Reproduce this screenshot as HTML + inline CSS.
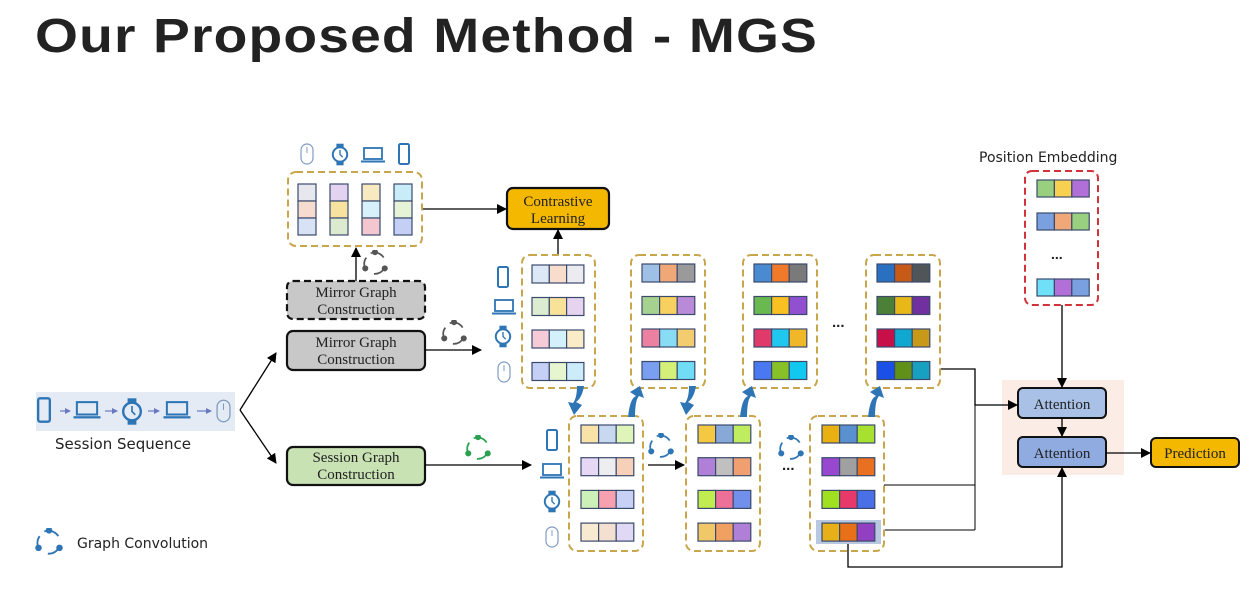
<!DOCTYPE html>
<html><head><meta charset="utf-8"><style>
body{margin:0;background:#fff;width:1260px;height:593px;overflow:hidden}
svg{display:block}
.t{font-family:"Liberation Serif",serif;font-size:15px;fill:#222;text-anchor:middle}
.s{font-family:"DejaVu Sans","Liberation Sans",sans-serif;fill:#222}
</style></head><body>
<svg id="g" width="1260" height="593" viewBox="0 0 1260 593" xmlns="http://www.w3.org/2000/svg">
<defs>
<marker id="a" markerWidth="10" markerHeight="10" refX="9" refY="5" orient="auto" markerUnits="userSpaceOnUse"><path d="M0,0 L10,5 L0,10 z" fill="#000"/></marker>
<marker id="b" markerWidth="6" markerHeight="6" refX="5" refY="3" orient="auto" markerUnits="userSpaceOnUse"><path d="M0,0 L6,3 L0,6 z" fill="#6a78c0"/></marker>
<symbol id="gc" viewBox="-12 -12 24 24"><path d="M-4,-9 A10,10 0 0 1 8,-5 M9,4 A10,10 0 0 1 -1,10 M-9,5 A10,10 0 0 1 -8,-5" fill="none" stroke="currentColor" stroke-width="1.6"/><circle cx="0" cy="-10" r="2.8" fill="currentColor"/><circle cx="9" cy="5" r="2.8" fill="currentColor"/><circle cx="-9" cy="5" r="2.8" fill="currentColor"/></symbol>
<symbol id="ph" viewBox="0 0 12 22"><rect x="1" y="1" width="10" height="20" rx="1.5" fill="none" stroke="#2e75b6" stroke-width="2"/></symbol>
<symbol id="lp" viewBox="0 0 24 16"><rect x="3" y="1" width="18" height="11" fill="none" stroke="#2e75b6" stroke-width="1.8"/><rect x="0" y="13.5" width="24" height="2" fill="#2e75b6"/></symbol>
<symbol id="wt" viewBox="0 0 20 24"><rect x="6" y="0" width="8" height="5" fill="#2e75b6"/><rect x="6" y="19" width="8" height="5" fill="#2e75b6"/><circle cx="10" cy="12" r="8" fill="none" stroke="#2e75b6" stroke-width="2.2"/><path d="M10,7 V12 L13,15" stroke="#2e75b6" stroke-width="1.5" fill="none"/></symbol>
<symbol id="ms" viewBox="0 0 14 22"><rect x="1" y="1" width="12" height="20" rx="6" fill="none" stroke="#7f9cc0" stroke-width="1.2"/><line x1="7" y1="4" x2="7" y2="10" stroke="#7f9cc0"/></symbol>
</defs>
<text x="35" y="52" textLength="783" lengthAdjust="spacingAndGlyphs" font-family="Liberation Sans,sans-serif" font-weight="bold" font-size="48" fill="#222" letter-spacing="1">Our Proposed Method - MGS</text>

<!-- session sequence -->
<rect x="36" y="392" width="199" height="39" fill="#e4ebf5"/>
<use href="#ph" x="37" y="397" width="14" height="26"/>
<use href="#lp" x="72" y="401" width="30" height="18"/>
<use href="#wt" x="121" y="398" width="22" height="27"/>
<use href="#lp" x="162" y="401" width="30" height="18"/>
<use href="#ms" x="216" y="398" width="15" height="26"/>
<g stroke="#6a78c0" stroke-width="1.2" marker-end="url(#b)"><line x1="60" y1="411" x2="70" y2="411"/><line x1="105" y1="411" x2="117" y2="411"/><line x1="148" y1="411" x2="159" y2="411"/><line x1="197" y1="411" x2="211" y2="411"/></g>
<text class="s" x="55" y="449" font-size="15">Session Sequence</text>
<g stroke="#000" stroke-width="1.3" fill="none" marker-end="url(#a)"><line x1="240" y1="410" x2="276" y2="353"/><line x1="240" y1="410" x2="276" y2="463"/></g>

<!-- construction boxes -->
<rect x="287" y="281" width="138" height="38" rx="6" fill="#c8c8c8" stroke="#111" stroke-width="2.2" stroke-dasharray="7,4"/>
<text class="t" x="356" y="297">Mirror Graph</text><text class="t" x="356" y="314">Construction</text>
<rect x="287" y="331" width="138" height="39" rx="6" fill="#c8c8c8" stroke="#111" stroke-width="2.2"/>
<text class="t" x="356" y="347">Mirror Graph</text><text class="t" x="356" y="364">Construction</text>
<rect x="287" y="447" width="138" height="38" rx="6" fill="#c9e2b4" stroke="#111" stroke-width="2.2"/>
<text class="t" x="356" y="462">Session Graph</text><text class="t" x="356" y="479">Construction</text>

<!-- attention area (drawn before connectors) -->
<rect x="1002" y="380" width="122" height="95" fill="#fbece5"/>
<rect x="1018" y="388" width="88" height="30" rx="5" fill="#a9c1e6" stroke="#111" stroke-width="2"/>
<text class="t" x="1062" y="409">Attention</text>
<rect x="1018" y="437" width="88" height="30" rx="5" fill="#8fabe0" stroke="#111" stroke-width="2"/>
<text class="t" x="1062" y="458">Attention</text>
<rect x="1151" y="438" width="88" height="29" rx="5" fill="#f5b800" stroke="#111" stroke-width="2"/>
<text class="t" x="1195" y="458">Prediction</text>

<rect x="507" y="188" width="102" height="41" rx="6" fill="#f5b800" stroke="#111" stroke-width="2.2"/>
<text class="t" x="558" y="206">Contrastive</text><text class="t" x="558" y="223">Learning</text>

<g stroke="#000" stroke-width="1.3" fill="none" marker-end="url(#a)">
<line x1="356" y1="281" x2="356" y2="248"/>
<line x1="425" y1="350" x2="481" y2="350"/>
<line x1="425" y1="465" x2="531" y2="465"/>
<line x1="422" y1="209" x2="506" y2="209"/>
<line x1="558" y1="255" x2="558" y2="230"/>
<line x1="648" y1="465" x2="684" y2="465"/>
<polyline points="940,369 975,369 975,405 1017,405"/>
<polyline points="848,543 848,567 1062,567 1062,468"/>
<line x1="1062" y1="305" x2="1062" y2="387"/>
<line x1="1062" y1="418" x2="1062" y2="436"/>
<line x1="1106" y1="453" x2="1150" y2="453"/>
</g>
<g stroke="#000" stroke-width="1" fill="none"><line x1="884" y1="485" x2="975" y2="485"/><line x1="884" y1="530" x2="975" y2="530"/><line x1="975" y1="405" x2="975" y2="530"/></g>

<use href="#gc" x="362" y="250" width="26" height="26" color="#555"/>
<use href="#gc" x="441" y="320" width="26" height="26" color="#555"/>
<use href="#gc" x="465" y="435" width="26" height="26" color="#2aa050"/>
<use href="#gc" x="648" y="433" width="26" height="26" color="#2e75b6"/>
<use href="#gc" x="778" y="435" width="26" height="26" color="#2e75b6"/>
<use href="#gc" x="35" y="528" width="28" height="28" color="#2e75b6"/>
<text class="s" x="77" y="548" font-size="14">Graph Convolution</text>
<text x="782" y="470" font-family="Liberation Sans,sans-serif" font-weight="bold" font-size="15" fill="#222">...</text>
<text x="832" y="327" font-family="Liberation Sans,sans-serif" font-weight="bold" font-size="15" fill="#222">...</text>

<!-- top mirror box -->
<rect x="288" y="172" width="134" height="74" rx="8" fill="none" stroke="#c9a64c" stroke-width="2" stroke-dasharray="7,4"/>
<use href="#ms" x="300" y="143" width="14" height="22"/>
<use href="#wt" x="331" y="143" width="18" height="23"/>
<use href="#lp" x="361" y="147" width="24" height="16"/>
<use href="#ph" x="398" y="143" width="12" height="22"/>

<!-- icons left of mirror embeddings -->
<use href="#ph" x="497" y="266" width="12" height="22"/>
<use href="#lp" x="492" y="299" width="24" height="16"/>
<use href="#wt" x="494" y="325" width="18" height="23"/>
<use href="#ms" x="497" y="361" width="14" height="22"/>
<use href="#ph" x="546" y="429" width="12" height="22"/>
<use href="#lp" x="540" y="463" width="24" height="16"/>
<use href="#wt" x="543" y="490" width="18" height="23"/>
<use href="#ms" x="545" y="526" width="14" height="22"/>

<text class="s" x="979" y="162" font-size="14">Position Embedding</text>
<rect x="1025" y="171" width="73" height="134" rx="7" fill="none" stroke="#d0343a" stroke-width="2" stroke-dasharray="7,4"/>
<text x="1051" y="259" font-family="Liberation Sans,sans-serif" font-weight="bold" font-size="14" fill="#222">...</text>
<g id="cells"></g>
<g id="arr" fill="#2e75b6"></g>
</svg>
<script>
const C=document.getElementById('cells');
function r(x,y,w,h,f,sw,st){const e=document.createElementNS('http://www.w3.org/2000/svg','rect');e.setAttribute('x',x);e.setAttribute('y',y);e.setAttribute('width',w);e.setAttribute('height',h);e.setAttribute('fill',f);if(st){e.setAttribute('stroke',st);e.setAttribute('stroke-width',sw);}C.appendChild(e);return e;}
function row(x,y,cols,cw,h){cols.forEach((c,i)=>r(x+i*cw,y,cw,h,c,1.2,'#3b4a6b'));}
function box(x,y,w,h){const e=r(x,y,w,h,'none',2,'#c9a64c');e.setAttribute('rx',8);e.setAttribute('stroke-dasharray','7,4');}
const tc=[['#e6e8ee','#f5dccf','#d8e2f5'],['#e3d2f0','#f8e2a0','#dcebd0'],['#f8eac0','#d8f0fa','#f3c6d0'],['#c8ecf8','#e6f3d6','#c4cff5']];
tc.forEach((c,i)=>c.forEach((f,j)=>r(298+i*32,184+j*17,18,17,f,1.2,'#3b4a6b')));
box(522,255,73,133);
[['#dde8f6','#f8dccc','#ececf0'],['#dcecd0','#f8e29a','#e6d3f0'],['#f6cad6','#d4f0fa','#faecc6'],['#c6d0f6','#e6f6d0','#ccecfa']].forEach((c,i)=>row(532,265+i*32.5,c,17.3,18));
const tops=[[631,['#9ec0e4','#f0a878','#9a9a9a'],['#a6d290','#f8d060','#b88ad8'],['#ec80a0','#88dcf4','#f4cc70'],['#7a9ef0','#d4f078','#70dcf6']],
[743,['#4a8ad0','#f07a2a','#7a7a7a'],['#6ab850','#f8c020','#9050d0'],['#e03a6a','#20c8f0','#f0b828'],['#4a78f0','#88c028','#10c8f0']],
[866,['#2a70c0','#c85a18','#505558'],['#4a8038','#e8b818','#7030a0'],['#c81048','#10a8d0','#c89818'],['#1a50e8','#609018','#18a0c0']]];
tops.forEach(t=>{box(t[0],255,74,133);for(let i=0;i<4;i++)row(t[0]+11,264+i*32.5,t[i+1],17.6,18);});
r(816,520,65,24,'#b8c8e0');
const bots=[[569,['#f8e2a8','#c8d8f0','#def4b8'],['#e6d8f4','#eeeef0','#f6d0b8'],['#cdf0b8','#f6a0b0','#c8d0f6'],['#f8ead0','#f4e0d0','#e0d8f4']],
[686,['#f4c840','#88a8d8','#c0ec60'],['#b080d8','#c0c0c0','#f0a070'],['#c0ec50','#ec7098','#7090ec'],['#f0c868','#f0a060','#b080d8']],
[810,['#e8b010','#5890d0','#a8e030'],['#9848d0','#a0a0a0','#e87020'],['#a0e020','#e83a6a','#4a70e8'],['#e8b018','#e87018','#9040c0']]];
bots.forEach(t=>{box(t[0],416,74,135);for(let i=0;i<4;i++)row(t[0]+12,425+i*32.7,t[i+1],17.6,18);});
[['#98d080','#f8d050','#b070d8'],['#7aa0e0','#f0a878','#98d080'],['#70e0f8','#b070d8','#7aa0e0']].forEach((c,i)=>row(1037,[180,213,279][i],c,17.4,17));
const A=document.getElementById('arr');
function ca(x,up){const g=document.createElementNS('http://www.w3.org/2000/svg','path');
let d=up?`M${x-4},417 Q${x-2},398 ${x+4},396 L${x-2},392 L${x+8},386 L${x+12},398 L${x+7},396 Q${x+3},400 ${x+3},417 Z`
:`M${x+4},386 Q${x+2},398 ${x-4},402 L${x+2},405 L${x-6},415 L${x-12},402 L${x-7},403 Q${x-3},398 ${x-3},386 Z`;
g.setAttribute('d',d);A.appendChild(g);}
ca(580,false);ca(632,true);ca(692,false);ca(744,true);ca(872,true);
</script>
</body></html>
